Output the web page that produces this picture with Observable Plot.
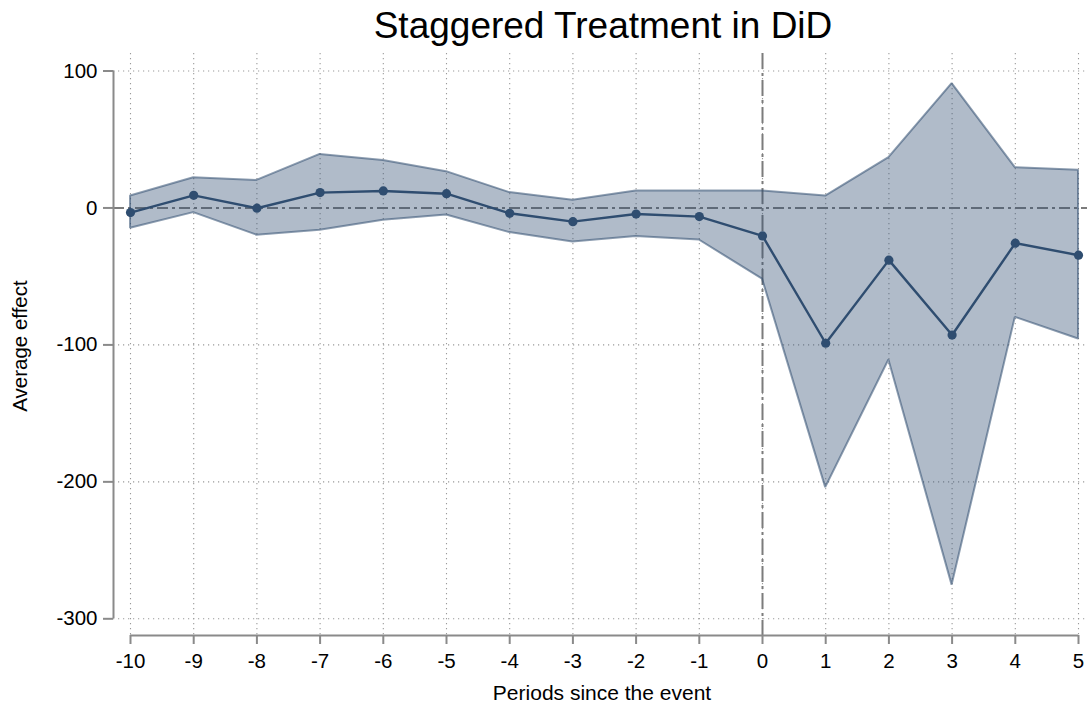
<!DOCTYPE html>
<html>
<head>
<meta charset="utf-8">
<script src="https://cdn.jsdelivr.net/npm/d3@7"></script>
<script src="https://cdn.jsdelivr.net/npm/@observablehq/plot@0.6"></script>
<style>
  html, body { margin: 0; padding: 0; background: #fff; }
  #wrap { position: relative; width: 1089px; height: 707px; font-family: "Liberation Sans", Arial, Helvetica, sans-serif; color: #000; }
  #title { position: absolute; left: 603px; top: 7px; transform: translateX(-50%); font-size: 37px; line-height: 37px; white-space: nowrap; }
  #xlabel { position: absolute; left: 602px; top: 682px; transform: translateX(-50%); font-size: 21px; line-height: 21px; white-space: nowrap; }
  #ylabel { position: absolute; left: 20px; top: 346px; transform: translate(-50%, -50%) rotate(-90deg); font-size: 20.5px; line-height: 20px; white-space: nowrap; }
  #chart { position: absolute; left: 0; top: 0; }
</style>
</head>
<body>
<div id="wrap">
  <div id="chart"></div>
  <div id="title">Staggered Treatment in DiD</div>
  <div id="xlabel">Periods since the event</div>
  <div id="ylabel">Average effect</div>
</div>
<script>
const periods  = [-10, -9, -8, -7, -6, -5, -4, -3, -2, -1, 0, 1, 2, 3, 4, 5];
const estimate = [-3.4, 9.2, -0.2, 11.2, 12.4, 10.4, -3.9, -10.0, -4.4, -6.3, -20.4, -98.8, -38.1, -92.8, -25.7, -34.5];
const upper    = [8.7, 22.0, 20.1, 39.1, 34.7, 26.5, 11.2, 5.6, 12.4, 12.4, 12.4, 8.7, 36.7, 90.8, 29.4, 27.5];
const lower    = [-14.8, -3.4, -19.9, -16.3, -9.0, -5.1, -18.0, -24.8, -20.9, -23.4, -52.0, -204.2, -111.0, -275.4, -79.9, -95.7];
const yTicks   = [100, 0, -100, -200, -300];
const yGrid    = [100, -100, -200, -300];

const data = periods.map((p, i) => ({period: p, est: estimate[i], hi: upper[i], lo: lower[i]}));

const navy = "#2f4d70";
const axisGray = "#8a8a8a";

const chart = Plot.plot({
  width: 1089,
  height: 707,
  marginLeft: 113,
  marginRight: 2,
  marginTop: 53,
  marginBottom: 72,
  style: {fontFamily: "'Liberation Sans', Arial, Helvetica, sans-serif", fontSize: "20px", color: "#000", background: "#fff"},
  x: {domain: [-10, 5], insetLeft: 17, insetRight: 9},
  y: {domain: [-300, 100], insetTop: 17.5, insetBottom: 16.7},
  marks: [
    Plot.gridX(periods, {stroke: "#9a9a9a", strokeOpacity: 1, strokeWidth: 1.1, strokeDasharray: "1.2,3.8"}),
    Plot.gridY(yGrid, {stroke: "#9a9a9a", strokeOpacity: 1, strokeWidth: 1.1, strokeDasharray: "1.2,3.8"}),
    Plot.ruleY([0], {stroke: "#7c7c7c", strokeWidth: 2, strokeDasharray: "11,4,3,4"}),
    Plot.ruleX([0], {stroke: "#7c7c7c", strokeWidth: 2, strokeDasharray: "16,4,3,4"}),
    Plot.areaY(data, {x: "period", y1: "lo", y2: "hi", fill: navy, fillOpacity: 0.38, stroke: navy, strokeOpacity: 0.55, strokeWidth: 2, strokeLinejoin: "miter"}),
    Plot.line(data, {x: "period", y: "est", stroke: navy, strokeWidth: 2.4}),
    Plot.dot(data, {x: "period", y: "est", r: 4.6, fill: navy, stroke: "none"}),
    Plot.ruleX([-10], {y1: -300, y2: 100, dx: -17, stroke: axisGray, strokeWidth: 2}),
    Plot.ruleY([-300], {x1: -10, x2: 5, dy: 16.7, stroke: axisGray, strokeWidth: 2}),
    Plot.axisY(yTicks, {anchor: "left", tickSize: 10, tickPadding: 6, stroke: axisGray, strokeWidth: 2, fontSize: 20.5, label: null, tickFormat: d => String(d)}),
    Plot.axisX(periods, {anchor: "bottom", tickSize: 9, tickPadding: 9, stroke: axisGray, strokeWidth: 2, fontSize: 20.5, label: null, tickFormat: d => String(d)})
  ]
});
document.getElementById("chart").appendChild(chart);
</script>
</body>
</html>
